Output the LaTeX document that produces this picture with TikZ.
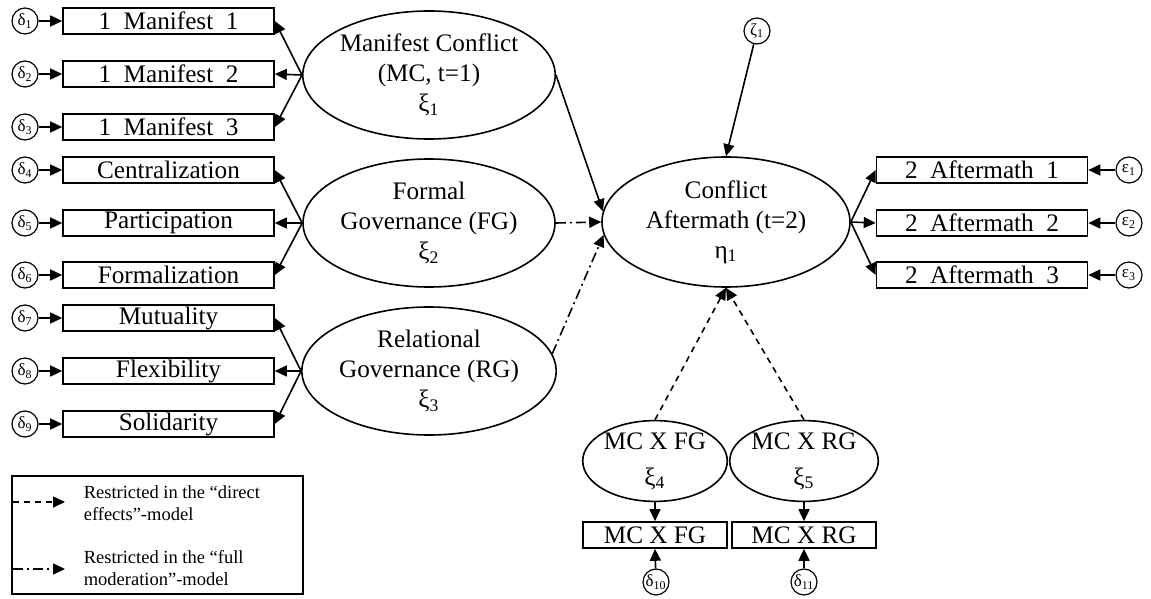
\documentclass[tikz,border=0pt]{standalone}
\usepackage{fontspec}
\setmainfont{Liberation Serif}
\usetikzlibrary{arrows.meta,shapes.geometric}

\begin{document}
\begin{tikzpicture}[
  x=0.5pt,y=-0.5pt,
  >={Triangle[length=6pt,width=5.5pt]},line width=0.8pt,
  font=\fontsize{12.6}{15}\selectfont,
  obs/.style={draw,rectangle,minimum width=105.5pt,minimum height=13pt,inner sep=0pt},
  lat/.style={draw,ellipse,minimum width=126pt,minimum height=64pt,inner sep=0pt,align=center},
  inter/.style={draw,ellipse,minimum width=72pt,minimum height=38pt,inner sep=0pt,align=center},
  prod/.style={draw,rectangle,minimum width=72pt,minimum height=13pt,inner sep=0pt},
  err/.style={draw,circle,minimum size=13pt,inner sep=0pt,line width=0.6pt,font=\fontsize{8.5}{9}\selectfont},
  restr/.style={dash pattern=on 3pt off 2.5pt},
  fullmod/.style={dash pattern=on 5pt off 2pt on 1pt off 2pt},
  leg/.style={font=\fontsize{9.25}{11}\selectfont,align=left,anchor=west,inner sep=0pt}
]
\useasboundingbox (0,0) rectangle (1151,599);

\node[obs] (m1) at (168.5,21) {1\ \ Manifest\ \ 1};
\node[obs] (m2) at (168.5,74) {1\ \ Manifest\ \ 2};
\node[obs] (m3) at (168.5,127) {1\ \ Manifest\ \ 3};
\node[obs] (f1) at (168.5,170) {Centralization};
\node[obs] (f2) at (168.5,223) {Participation};
\node[obs] (f3) at (168.5,275) {Formalization};
\node[obs] (r1) at (168.5,318) {Mutuality};
\node[obs] (r2) at (168.5,371) {Flexibility};
\node[obs] (r3) at (168.5,424) {Solidarity};

\node[err] (d1) at (25,21) {δ\textsubscript{1}};
\node[err] (d2) at (25,74) {δ\textsubscript{2}};
\node[err] (d3) at (25,127) {δ\textsubscript{3}};
\node[err] (d4) at (25,170) {δ\textsubscript{4}};
\node[err] (d5) at (25,223) {δ\textsubscript{5}};
\node[err] (d6) at (25,275) {δ\textsubscript{6}};
\node[err] (d7) at (25,318) {δ\textsubscript{7}};
\node[err] (d8) at (25,371) {δ\textsubscript{8}};
\node[err] (d9) at (25,424) {δ\textsubscript{9}};

\node[lat] (MC) at (429,75) {Manifest Conflict\\(MC, t=1)\\ξ\textsubscript{1}};
\node[lat] (FG) at (429,223) {Formal\\Governance (FG)\\ξ\textsubscript{2}};
\node[lat] (RG) at (429,371) {Relational\\Governance (RG)\\ξ\textsubscript{3}};
\node[lat,minimum width=124pt,minimum height=65pt] (CA) at (726,222) {Conflict\\Aftermath (t=2)\\η\textsubscript{1}};
\node[err] (z1) at (757,31) {ζ\textsubscript{1}};

\node[obs] (a1) at (982,170) {2\ \ Aftermath\ \ 1};
\node[obs] (a2) at (982,223) {2\ \ Aftermath\ \ 2};
\node[obs] (a3) at (982,275) {2\ \ Aftermath\ \ 3};
\node[err] (e1) at (1129,170) {ε\textsubscript{1}};
\node[err] (e2) at (1129,223) {ε\textsubscript{2}};
\node[err] (e3) at (1129,275) {ε\textsubscript{3}};

\node[inter] (IFG) at (655,461) {MC X FG\\[3pt]ξ\textsubscript{4}};
\node[inter] (IRG) at (804,461) {MC X RG\\[3pt]ξ\textsubscript{5}};
\node[prod] (bFG) at (655,535) {MC X FG};
\node[prod] (bRG) at (804,535) {MC X RG};
\node[err] (d10) at (656,582) {δ\textsubscript{10}};
\node[err] (d11) at (804,582) {δ\textsubscript{11}};

\draw[->] (d1) -- (m1);
\draw[->] (d2) -- (m2);
\draw[->] (d3) -- (m3);
\draw[->] (d4) -- (f1);
\draw[->] (d5) -- (f2);
\draw[->] (d6) -- (f3);
\draw[->] (d7) -- (r1);
\draw[->] (d8) -- (r2);
\draw[->] (d9) -- (r3);
\draw[->] (MC.west) -- (m1.east);
\draw[->] (MC.west) -- (m2.east);
\draw[->] (MC.west) -- (m3.east);
\draw[->] (FG.west) -- (f1.east);
\draw[->] (FG.west) -- (f2.east);
\draw[->] (FG.west) -- (f3.east);
\draw[->] (RG.west) -- (r1.east);
\draw[->] (RG.west) -- (r2.east);
\draw[->] (RG.west) -- (r3.east);

\draw[->] (MC.east) -- (CA.175);
\draw[->,fullmod] (FG.east) -- (CA.west);
\draw[->,fullmod] (RG.8) -- (CA.186);
\draw[->] (z1) -- (CA.north);
\draw[->,restr] (IFG.north) -- (CA.south);
\draw[->,restr] (IRG.north) -- (CA.south);

\draw[->] (CA.east) -- (a1.west);
\draw[->] (CA.east) -- (a2.west);
\draw[->] (CA.east) -- (a3.west);
\draw[->] (e1) -- (a1.east);
\draw[->] (e2) -- (a2.east);
\draw[->] (e3) -- (a3.east);

\draw[->] (IFG.south) -- (bFG.north);
\draw[->] (IRG.south) -- (bRG.north);
\draw[->] (d10) -- (bFG.south);
\draw[->] (d11) -- (bRG.south);

\node[draw,minimum width=145.5pt,minimum height=59pt,inner sep=0pt] (legend) at (157.5,535) {};
\coordinate (l1s) at (13,502);
\coordinate (l1e) at (65,502);
\coordinate (l2s) at (13,569);
\coordinate (l2e) at (65,569);
\draw[->,restr] (l1s) -- (l1e);
\draw[->,fullmod] (l2s) -- (l2e);
\node[leg] (t1) at (83,503) {Restricted in the “direct\\effects”-model};
\node[leg] (t2) at (83,568) {Restricted in the “full\\moderation”-model};
\end{tikzpicture}
\end{document}
